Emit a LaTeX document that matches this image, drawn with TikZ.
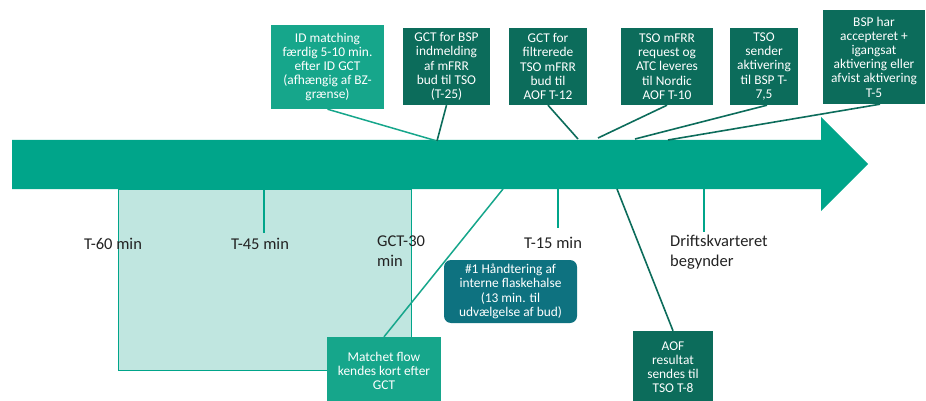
\documentclass[tikz,border=0pt]{standalone}
\usepackage{fontspec}
\setmainfont{Carlito}
\definecolor{arrowc}{RGB}{0,165,138}
\definecolor{midc}{RGB}{22,166,139}
\definecolor{darkc}{RGB}{12,108,91}
\definecolor{lightc}{RGB}{192,230,224}
\definecolor{roundc}{RGB}{14,114,128}
\definecolor{labc}{RGB}{34,34,34}
\begin{document}
\begin{tikzpicture}[x=1pt,y=-1pt,
  boxtext/.style={font=\fontsize{13.4}{14.2}\selectfont, text=white, align=center, inner sep=0pt},
  midbox/.style={boxtext, fill=midc},
  darkbox/.style={boxtext, fill=darkc},
  roundbox/.style={boxtext, fill=roundc, rounded corners=7pt},
  timelab/.style={font=\fontsize{16.5}{20}\selectfont, text=labc, inner sep=0pt},
  tick/.style={draw=arrowc, line width=1.2pt},
  midline/.style={draw=midc, line width=1.5pt},
  darkline/.style={draw=darkc, line width=1.6pt}]
\useasboundingbox (0,0) rectangle (926,401);
% shaded period
\draw[draw=arrowc, fill=lightc, line width=1pt] (118,189) rectangle (411,370);
% big arrow
\fill[arrowc] (12,140) -- (821,140) -- (821,117) -- (868,164) -- (821,211) -- (821,189) -- (12,189) -- cycle;
% points on the arrow
\coordinate (p45) at (264,189);
\coordinate (e45) at (264,233);
\coordinate (p15) at (558,189);
\coordinate (e15) at (558,228);
\coordinate (pdr) at (704,189);
\coordinate (edr) at (704,232);
\coordinate (aid) at (437,141);
\coordinate (afi) at (578,139);
\coordinate (atm) at (598,138);
\coordinate (ats) at (635,139);
\coordinate (abs) at (668,140);
\coordinate (amf) at (503,189);
\coordinate (aof) at (617,189);
% ticks
\draw[tick] (p45) -- (e45);
\draw[tick] (p15) -- (e15);
\draw[tick] (pdr) -- (edr);
% time labels
\node[timelab] (t60) at (113,244) {T-60 min};
\node[timelab] (t45) at (260,244) {T-45 min};
\node[timelab, anchor=north west, align=left] (gct) at (377,236) {GCT-30\\min};
\node[timelab] (t15) at (553,243) {T-15 min};
\node[timelab, anchor=north west, align=left] (drift) at (670,235) {Driftskvarteret\\begynder};
% top boxes
\node[midbox, minimum width=113pt, minimum height=84pt] (idm) at (327.5,67) {ID matching\\færdig 5-10 min.\\efter ID GCT\\(afhængig af BZ-\\grænse)};
\node[darkbox, minimum width=87pt, minimum height=77pt] (bsp) at (446.5,66.5) {GCT for BSP\\indmelding\\af mFRR\\bud til TSO\\(T-25)};
\node[darkbox, minimum width=78pt, minimum height=77pt] (fil) at (548,66.5) {GCT for\\filtrerede\\TSO mFRR\\bud til\\AOF T-12};
\node[darkbox, minimum width=92pt, minimum height=77pt] (tso) at (667,66.5) {TSO mFRR\\request og\\ATC leveres\\til Nordic\\AOF T-10};
\node[darkbox, minimum width=68pt, minimum height=77pt] (send) at (764,66.5) {TSO\\sender\\aktivering\\til BSP T-\\7,5};
\node[darkbox, minimum width=102pt, minimum height=94pt] (acc) at (874,57) {BSP har\\accepteret +\\igangsat\\aktivering eller\\afvist aktivering\\T-5};
% bottom boxes
\node[roundbox, minimum width=133pt, minimum height=63pt] (flask) at (510.5,291.5) {\#1 Håndtering af\\interne flaskehalse\\(13 min. til\\udvælgelse af bud)};
\node[midbox, minimum width=114pt, minimum height=68pt] (match) at (384,371) {Matchet flow\\kendes kort efter\\GCT};
\node[darkbox, minimum width=80pt, minimum height=72pt] (aofb) at (673,367) {AOF\\resultat\\sendes til\\TSO T-8};
% connectors
\draw[midline] (idm.south) -- (aid);
\draw[darkline] (bsp.south) -- (aid);
\draw[darkline] (fil.south) -- (afi);
\draw[darkline] (tso.south) -- (atm);
\draw[darkline] ([xshift=3pt]send.south) -- (ats);
\draw[darkline] ([xshift=6pt]acc.south) -- (abs);
\draw[midline] (match.north) -- (amf);
\draw[darkline] (aofb.north) -- (aof);
\end{tikzpicture}
\end{document}
